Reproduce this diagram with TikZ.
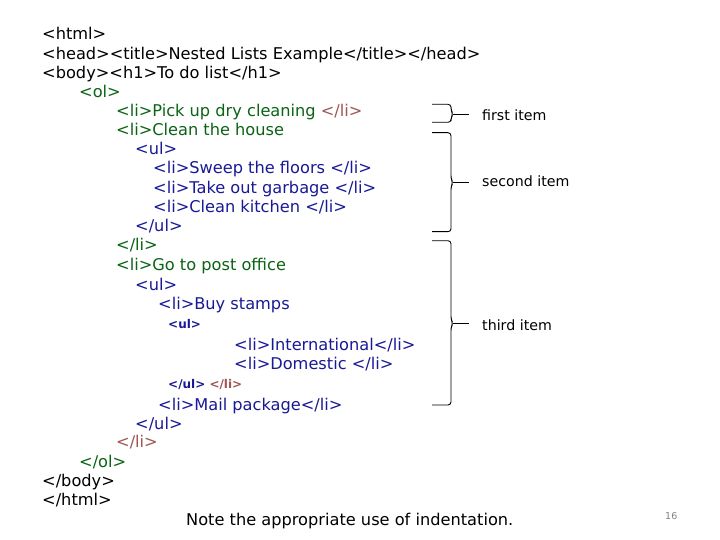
\documentclass[tikz,border=0pt]{standalone}
\usepackage{fontspec}
\newfontfamily\codefont{DejaVu Sans}
\definecolor{htmlgreen}{RGB}{10,100,20}
\definecolor{htmlblue}{RGB}{25,25,150}
\definecolor{htmlred}{RGB}{160,85,85}
\definecolor{pagegray}{RGB}{130,130,130}
\begin{document}
\begin{tikzpicture}[x=1pt,y=-1pt,
  line/.style={anchor=base west, inner sep=0pt, font=\codefont\fontsize{16.2}{19}\selectfont},
  small/.style={anchor=base west, inner sep=0pt, font=\codefont\bfseries\fontsize{12}{14}\selectfont},
  itemlabel/.style={anchor=base west, inner sep=0pt, font=\codefont\fontsize{14.2}{17}\selectfont},
  bracket/.style={draw, line width=0.9pt, rounded corners=3pt},
  pointer/.style={draw, line width=0.9pt, shorten >=13pt}]
\fill[white] (0,0) rectangle (720,540);
\useasboundingbox (0,0) rectangle (720,540);

\node[line] (ln1) at (42,40) {<html>};
\node[line] (ln2) at (42,60) {<head><title>Nested Lists Example</title></head>};
\node[line] (ln3) at (42,79) {<body><h1>To do list</h1>};
\node[line, htmlgreen] (ln4) at (79,98) {<ol>};
\node[line, htmlgreen] (ln5) at (116,117) {<li>Pick up dry cleaning \textcolor{htmlred}{</li>}};
\node[line, htmlgreen] (ln6) at (116,136) {<li>Clean the house};
\node[line, htmlblue] (ln7) at (135,155) {<ul>};
\node[line, htmlblue] (ln8) at (153,174) {<li>Sweep the floors </li>};
\node[line, htmlblue] (ln9) at (153,193.5) {<li>Take out garbage </li>};
\node[line, htmlblue] (ln10) at (153,212.5) {<li>Clean kitchen </li>};
\node[line, htmlblue] (ln11) at (135,231.7) {</ul>};
\node[line, htmlgreen] (ln12) at (116,251) {</li>};
\node[line, htmlgreen] (ln13) at (116,270.5) {<li>Go to post office};
\node[line, htmlblue] (ln14) at (135,290) {<ul>};
\node[line, htmlblue] (ln15) at (158,309.3) {<li>Buy stamps};
\node[small, htmlblue] (ln16) at (168,328.3) {<ul>};
\node[line, htmlblue] (ln17) at (234,350) {<li>International</li>};
\node[line, htmlblue] (ln18) at (234,369.3) {<li>Domestic </li>};
\node[small, htmlblue] (ln19) at (168,388.3) {</ul> \textcolor{htmlred}{</li>}};
\node[line, htmlblue] (ln20) at (158,410) {<li>Mail package</li>};
\node[line, htmlblue] (ln21) at (135,429) {</ul>};
\node[line, htmlred] (ln22) at (116,447.5) {</li>};
\node[line, htmlgreen] (ln23) at (79,467) {</ol>};
\node[line] (ln24) at (42,486) {</body>};
\node[line] (ln25) at (42,505) {</html>};

\node[itemlabel] (lab1) at (482,121) {first item};
\node[itemlabel] (lab2) at (482,186.7) {second item};
\node[itemlabel] (lab3) at (482,330) {third item};

\coordinate (tip1) at (453,114);
\coordinate (tip2) at (453,182.7);
\coordinate (tip3) at (453,323.3);
\draw[bracket] (432,104.3) -- (451,104.3) -- (451,110) -- (tip1) -- (451,118) -- (451,122.3) -- (432,122.3);
\draw[bracket] (432,132.7) -- (451,132.7) -- (451,178.7) -- (tip2) -- (451,186.7) -- (451,231.7) -- (432,231.7);
\draw[bracket] (432,240.7) -- (451,240.7) -- (451,319.3) -- (tip3) -- (451,327.3) -- (451,405) -- (432,405);
\draw[pointer] (tip1) -- (tip1 -| lab1.west);
\draw[pointer] (tip2) -- (tip2 -| lab2.west);
\draw[pointer] (tip3) -- (tip3 -| lab3.west);

\node[line] (note) at (186,525) {Note the appropriate use of indentation.};
\node[anchor=base west, inner sep=0pt, font=\codefont\fontsize{9.5}{11}\selectfont, pagegray] (pnum) at (665,519) {16};
\end{tikzpicture}
\end{document}
